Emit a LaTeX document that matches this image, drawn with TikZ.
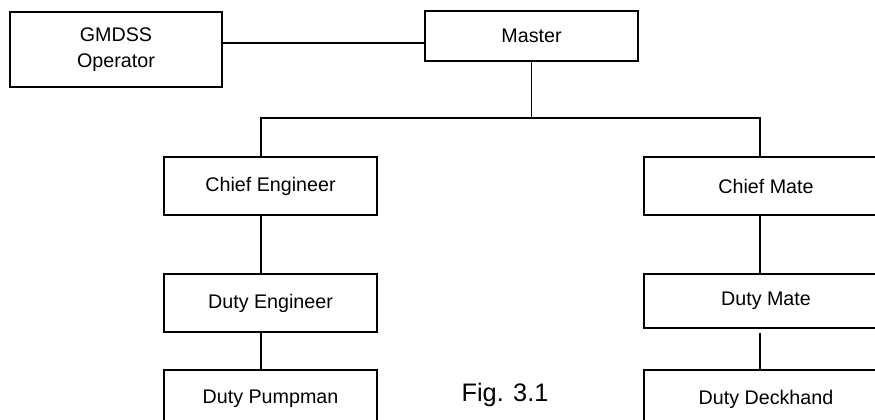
\documentclass[tikz,border=0pt]{standalone}
\usepackage{fontspec}
\setmainfont{Liberation Sans}
\begin{document}
\begin{tikzpicture}[
    x=0.025cm, y=-0.025cm,
    role box/.style={
        rectangle,
        draw=black,
        line width=1pt,
        fill=white,
        minimum width=5.325cm,
        minimum height=1.45cm,
        inner sep=0pt,
        align=center,
        font=\fontsize{14}{18.5}\selectfont
    },
    wide box/.style={
        role box,
        minimum width=6.1cm
    },
    link/.style={
        -,
        black,
        line width=1pt
    }
]

\useasboundingbox (0,0) rectangle (875,420);
\clip (0,0) rectangle (875,420);

%% --- Top of the chart ---
\node[role box, minimum width=5.3cm, minimum height=1.875cm] (gmdss) at (116, 49.5) {GMDSS\\Operator};
\node[role box, minimum height=1.25cm] (master) at (531.5, 36) {Master};

%% --- Engine side ---
\node[role box] (chiefeng) at (270.5, 186) {Chief Engineer};
\node[role box] (dutyeng)  at (270.5, 303) {Duty Engineer};
\node[role box] (pumpman)  at (270.5, 399) {Duty Pumpman};

%% --- Deck side ---
\node[wide box] (chiefmate) at (766, 186) {Chief Mate};
\node[wide box, minimum height=1.35cm] (dutymate) at (766, 301) {Duty Mate};
\node[wide box] (deckhand)  at (766, 399) {Duty Deckhand};

%% --- Bus points ---
\coordinate (gline) at (0, 43);
\coordinate (busL)  at (261, 118);
\coordinate (busR)  at (760, 118);

%% --- Connections ---
\draw[link] (gmdss.east |- gline) -- (master.west |- gline);
\draw[link] (master.south) -- (master.south |- busL);
\draw[link] (chiefeng.north -| busL) -- (busL) -- (busR) -- (chiefmate.north -| busR);
\draw[link] (chiefeng.south -| busL) -- (dutyeng.north -| busL);
\draw[link] (dutyeng.south -| busL) -- (pumpman.north -| busL);
\draw[link] (chiefmate.south -| busR) -- (dutymate.north -| busR);
\draw[link, shorten <=0.1cm] (dutymate.south -| busR) -- (deckhand.north -| busR);

%% --- Caption ---
\node[font=\fontsize{18}{20}\selectfont] (caption) at (505, 395) {Fig. 3.1};

\end{tikzpicture}
\end{document}
